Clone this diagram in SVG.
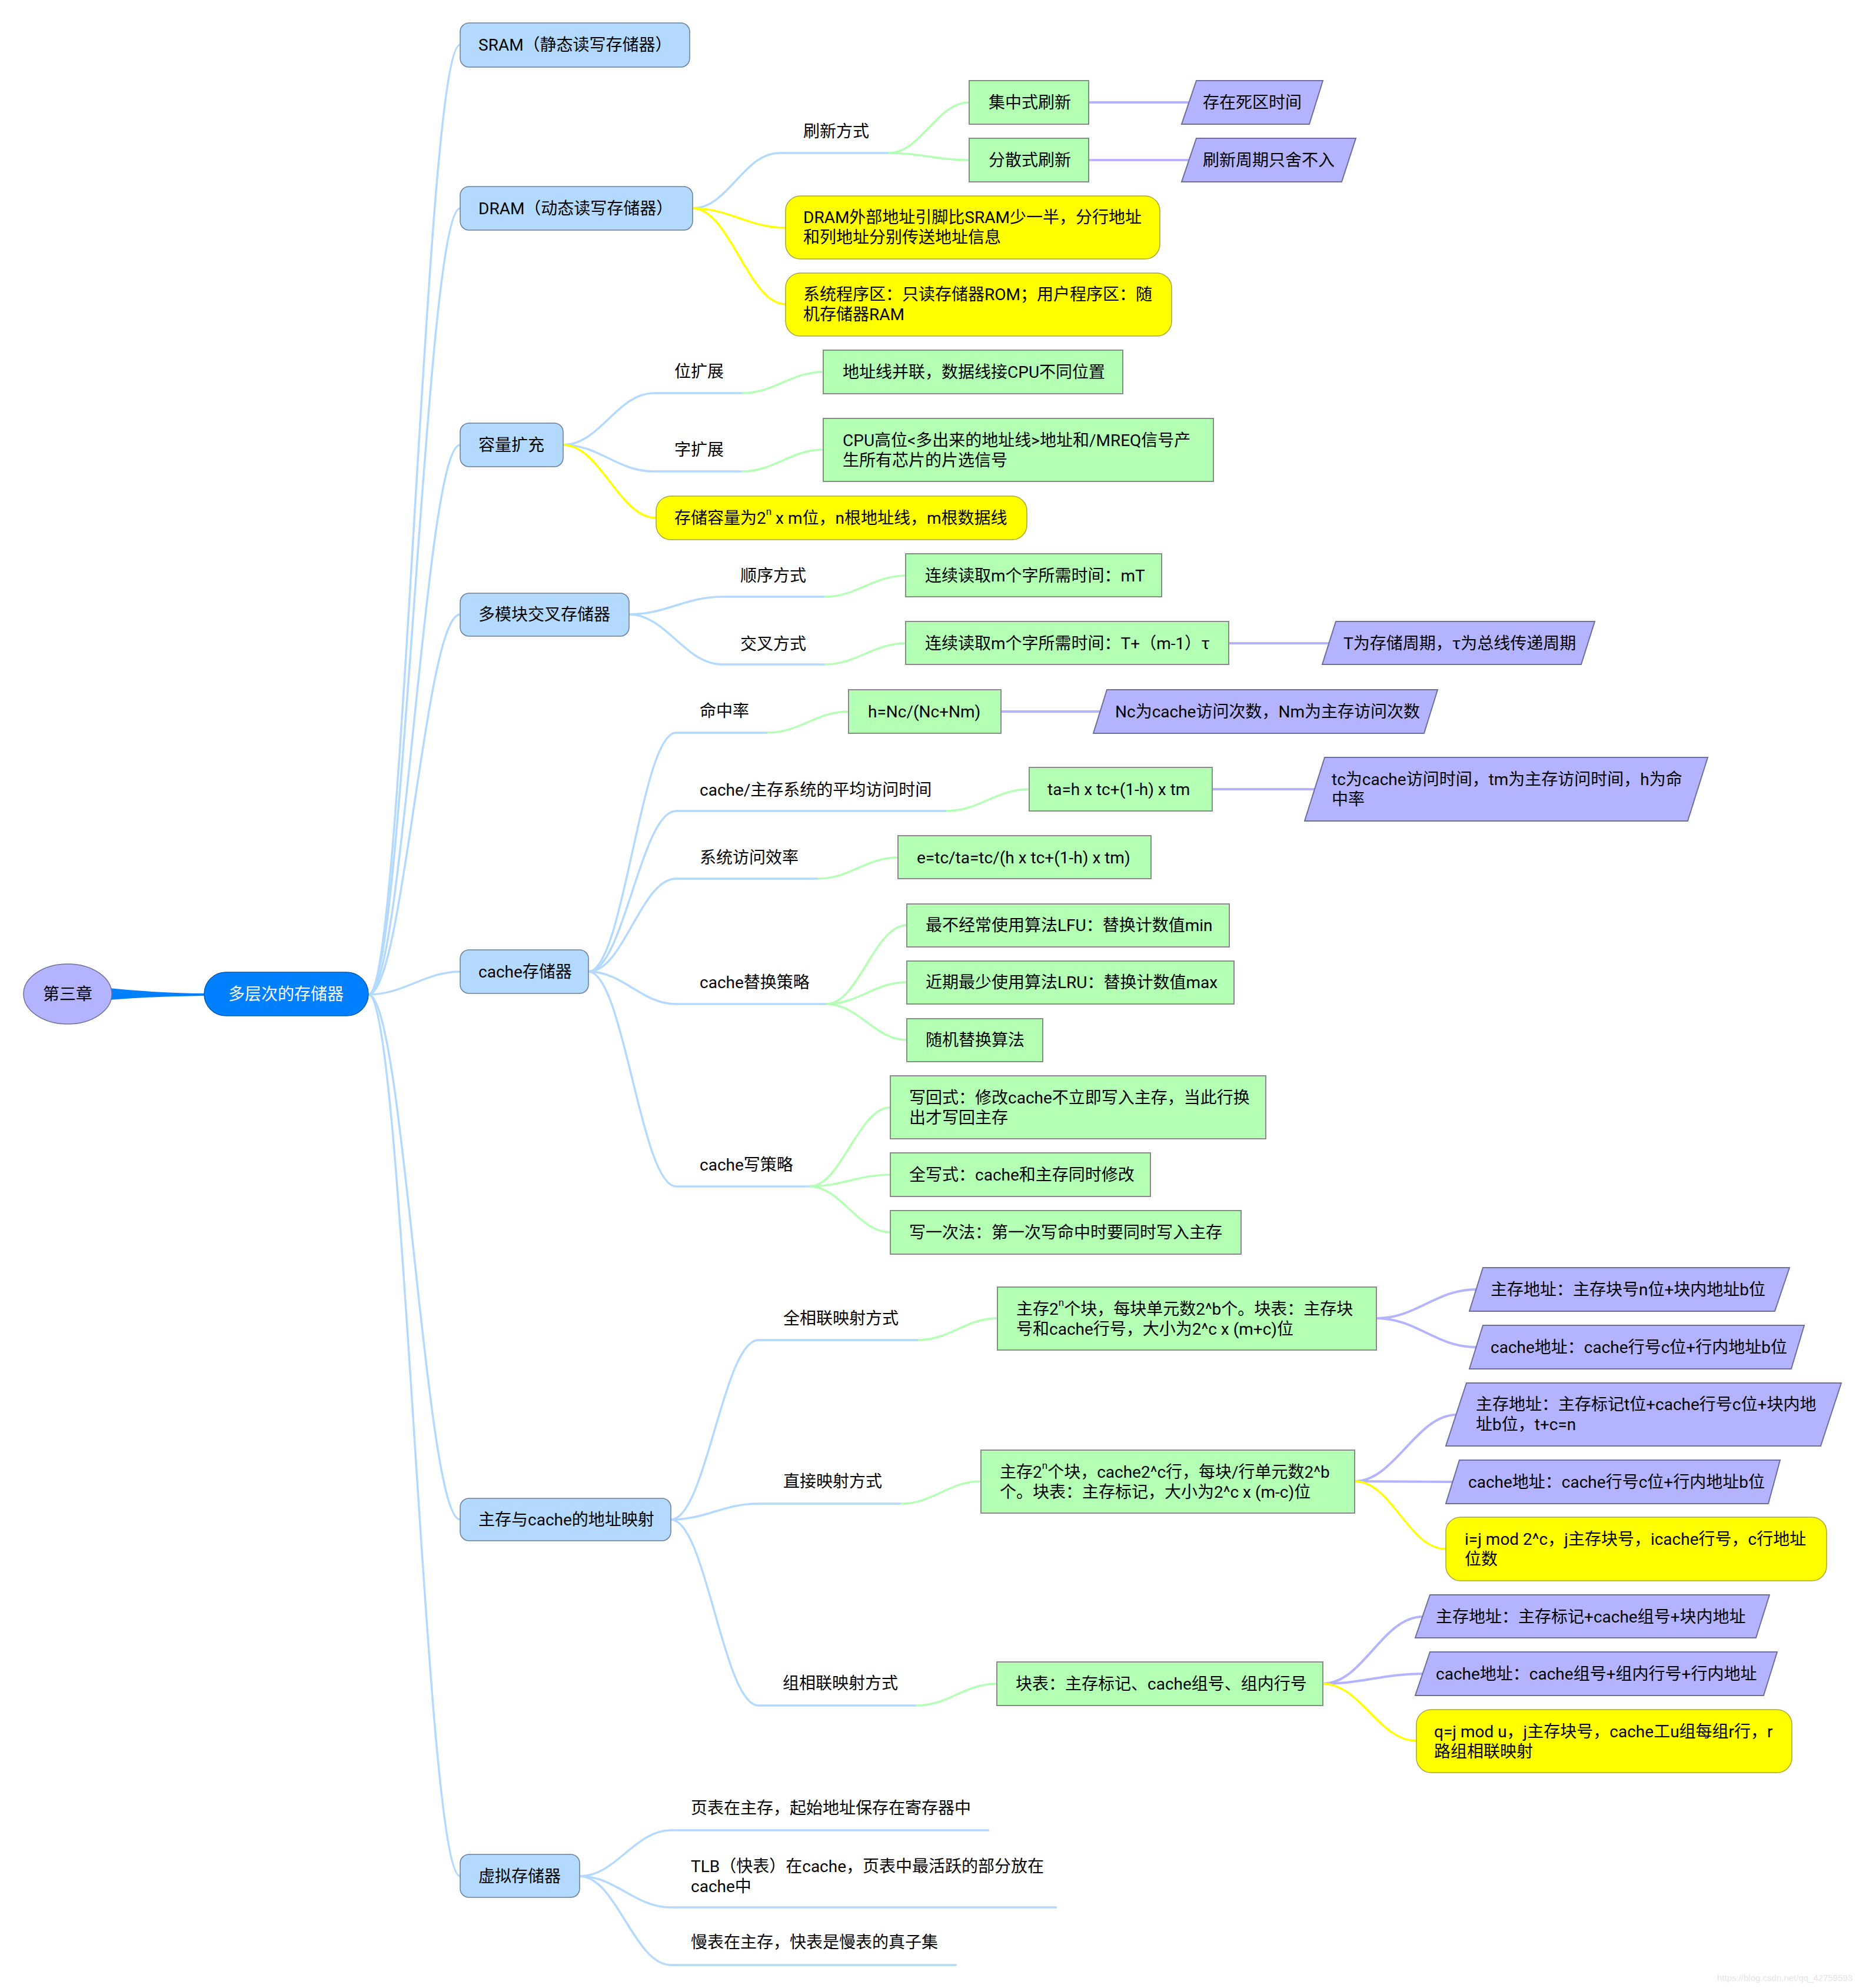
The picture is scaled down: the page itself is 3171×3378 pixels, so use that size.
<svg xmlns="http://www.w3.org/2000/svg" width="3171" height="3378" viewBox="0 0 3171 3378">
<style>
text{font-family:Roboto,"Noto Sans CJK SC",sans-serif;font-size:28px;fill:#000;dominant-baseline:central}
.l1{fill:#b3d9ff;stroke:#6b7f95;stroke-width:1.5}
.g{fill:#b3ffb3;stroke:#8a8a8a;stroke-width:2}
.p{fill:#b3b3ff;stroke:#6e6e9a;stroke-width:2}
.y{fill:#ffff00;stroke:#a5a53c;stroke-width:1.5}
.cb{fill:none;stroke:#b3d9ff;stroke-width:3.5}
.cg{fill:none;stroke:#b3ffb3;stroke-width:3.5}
.cp{fill:none;stroke:#b3b3ff;stroke-width:4}
.cy{fill:none;stroke:#ffff00;stroke-width:3.5}
</style>
<rect x="0" y="0" width="3171" height="3378" fill="#ffffff"/>
<g id="connectors">
<path d="M186,1679 Q260,1687 348,1688 L348,1692 Q260,1693 186,1699 Z" fill="#0080ff"/>
<path class="cb" d="M626,1690 C686,1690 722,76 782,76"/>
<path class="cb" d="M626,1690 C686,1690 722,354 782,354"/>
<path class="cb" d="M626,1690 C686,1690 722,756 782,756"/>
<path class="cb" d="M626,1690 C686,1690 722,1044 782,1044"/>
<path class="cb" d="M626,1690 C686,1690 722,1651 782,1651"/>
<path class="cb" d="M626,1690 C686,1690 722,2582 782,2582"/>
<path class="cb" d="M626,1690 C686,1690 722,3188 782,3188"/>
<path class="cb" d="M1177,354 C1237,354 1264,260 1324,260 L1510,260"/>
<path class="cg" d="M1510,260 C1565,260 1592,174 1647,174"/>
<path class="cg" d="M1510,260 C1565,260 1592,272 1647,272"/>
<path class="cp" d="M1850,174 L2021,174"/>
<path class="cp" d="M1850,272 L2021,272"/>
<path class="cy" d="M1177,354 C1240,354 1272,387 1335,387"/>
<path class="cy" d="M1177,354 C1240,354 1272,517 1335,517"/>
<path class="cb" d="M957,756 C1019,756 1049,668 1111,668 L1261,668"/>
<path class="cb" d="M957,756 C1019,756 1049,801 1111,801 L1261,801"/>
<path class="cg" d="M1261,668 C1316,668 1344,632 1399,632"/>
<path class="cg" d="M1261,801 C1316,801 1344,764 1399,764"/>
<path class="cy" d="M957,756 C1020,756 1052,880 1115,880"/>
<path class="cb" d="M1069,1044 C1132,1044 1164,1014 1227,1014 L1401,1014"/>
<path class="cb" d="M1069,1044 C1132,1044 1164,1129 1227,1129 L1401,1129"/>
<path class="cg" d="M1401,1014 C1456,1014 1484,978 1539,978"/>
<path class="cg" d="M1401,1129 C1456,1129 1484,1093 1539,1093"/>
<path class="cp" d="M2088,1093 L2259,1093"/>
<path class="cb" d="M1000,1651 C1060,1651 1089,1245 1149,1245 L1304,1245"/>
<path class="cb" d="M1000,1651 C1060,1651 1089,1378 1149,1378 L1608,1378"/>
<path class="cb" d="M1000,1651 C1060,1651 1089,1493 1149,1493 L1390,1493"/>
<path class="cb" d="M1000,1651 C1060,1651 1089,1706 1149,1706 L1404,1706"/>
<path class="cb" d="M1000,1651 C1060,1651 1089,2016 1149,2016 L1375,2016"/>
<path class="cg" d="M1304,1245 C1359,1245 1387,1209 1442,1209"/>
<path class="cp" d="M1701,1209 L1870,1209"/>
<path class="cg" d="M1608,1378 C1664,1378 1693,1341 1749,1341"/>
<path class="cp" d="M2060,1341 L2234,1341"/>
<path class="cg" d="M1390,1493 C1444,1493 1472,1457 1526,1457"/>
<path class="cg" d="M1404,1706 C1459,1706 1486,1572 1541,1572"/>
<path class="cg" d="M1404,1706 C1459,1706 1486,1669 1541,1669"/>
<path class="cg" d="M1404,1706 C1459,1706 1486,1767 1541,1767"/>
<path class="cg" d="M1375,2016 C1430,2016 1458,1882 1513,1882"/>
<path class="cg" d="M1375,2016 C1430,2016 1458,1996 1513,1996"/>
<path class="cg" d="M1375,2016 C1430,2016 1458,2094 1513,2094"/>
<path class="cb" d="M1140,2582 C1200,2582 1229,2277 1289,2277 L1560,2277"/>
<path class="cb" d="M1140,2582 C1200,2582 1229,2555 1289,2555 L1531,2555"/>
<path class="cb" d="M1140,2582 C1200,2582 1229,2898 1289,2898 L1557,2898"/>
<path class="cg" d="M1560,2277 C1614,2277 1641,2240 1695,2240"/>
<path class="cp" d="M2339,2240 C2407,2240 2440,2191 2508,2191"/>
<path class="cp" d="M2339,2240 C2407,2240 2440,2289 2508,2289"/>
<path class="cg" d="M1531,2555 C1586,2555 1612,2517 1667,2517"/>
<path class="cp" d="M2302,2517 C2370,2517 2407,2404 2475,2404"/>
<path class="cp" d="M2302,2517 C2370,2517 2400,2518 2468,2518"/>
<path class="cy" d="M2302,2517 C2366,2517 2393,2632 2457,2632"/>
<path class="cg" d="M1557,2898 C1612,2898 1639,2861 1694,2861"/>
<path class="cp" d="M2248,2861 C2316,2861 2349,2747 2418,2747"/>
<path class="cp" d="M2248,2861 C2316,2861 2349,2844 2418,2844"/>
<path class="cy" d="M2248,2861 C2312,2861 2343,2958 2407,2958"/>
<path class="cb" d="M985,3188 C1047,3188 1078,3110 1140,3110 L1681,3110"/>
<path class="cb" d="M985,3188 C1047,3188 1078,3241 1140,3241 L1796,3241"/>
<path class="cb" d="M985,3188 C1047,3188 1078,3339 1140,3339 L1626,3339"/>
</g>
<g id="n-root"><ellipse cx="115" cy="1689" rx="75" ry="51" fill="#b3b3ff" stroke="#6e6e9a" stroke-width="1.5"/><text x="115" y="1689" text-anchor="middle">第三章</text></g>
<g id="n-center"><rect x="347" y="1652" width="279" height="74" rx="37" fill="#0080ff" stroke="#0059b3" stroke-width="1.5"/><text x="486" y="1689" text-anchor="middle" style="fill:#ffffff">多层次的存储器</text></g>
<g id="n-sram"><rect class="l1" x="782" y="39" width="390" height="75" rx="15"/><text x="813" y="76">SRAM（静态读写存储器）</text></g>
<g id="n-dram"><rect class="l1" x="782" y="317" width="395" height="74" rx="15"/><text x="813" y="354">DRAM（动态读写存储器）</text></g>
<g id="n-refresh"><text x="1365" y="223">刷新方式</text></g>
<g id="n-jz"><rect class="g" x="1647" y="137" width="203" height="74"/><text x="1680" y="174">集中式刷新</text></g>
<g id="n-fs"><rect class="g" x="1647" y="235" width="203" height="74"/><text x="1680" y="272">分散式刷新</text></g>
<g id="n-sq"><polygon class="p" points="2033,137 2248,137 2225,211 2008,211"/><text x="2044" y="174">存在死区时间</text></g>
<g id="n-zq"><polygon class="p" points="2033,235 2304,235 2280,309 2008,309"/><text x="2044" y="272">刷新周期只舍不入</text></g>
<g id="n-dram1"><rect class="y" x="1335" y="333" width="636" height="107" rx="25"/><text x="1365" y="369">DRAM外部地址引脚比SRAM少一半，分行地址<tspan x="1365" dy="34">和列地址分别传送地址信息</tspan></text></g>
<g id="n-dram2"><rect class="y" x="1335" y="464" width="656" height="107" rx="25"/><text x="1365" y="500">系统程序区：只读存储器ROM；用户程序区：随<tspan x="1365" dy="34">机存储器RAM</tspan></text></g>
<g id="n-cap"><rect class="l1" x="782" y="719" width="175" height="74" rx="15"/><text x="813" y="756">容量扩充</text></g>
<g id="n-wkz"><text x="1146" y="631">位扩展</text></g>
<g id="n-wkz1"><rect class="g" x="1399" y="595" width="509" height="74"/><text x="1432" y="632">地址线并联，数据线接CPU不同位置</text></g>
<g id="n-zkz"><text x="1146" y="764">字扩展</text></g>
<g id="n-zkz1"><rect class="g" x="1399" y="711" width="663" height="107"/><text x="1432" y="748">CPU高位&lt;多出来的地址线&gt;地址和/MREQ信号产<tspan x="1432" dy="34">生所有芯片的片选信号</tspan></text></g>
<g id="n-cap1"><rect class="y" x="1115" y="843" width="630" height="74" rx="25"/><text x="1146" y="880">存储容量为2<tspan dy="-11" font-size="17">n</tspan><tspan dy="11"> x m位，n根地址线，m根数据线</tspan></text></g>
<g id="n-multi"><rect class="l1" x="782" y="1008" width="287" height="73" rx="15"/><text x="813" y="1044">多模块交叉存储器</text></g>
<g id="n-sx"><text x="1258" y="978">顺序方式</text></g>
<g id="n-sx1"><rect class="g" x="1539" y="941" width="435" height="73"/><text x="1572" y="978">连续读取m个字所需时间：mT</text></g>
<g id="n-jc"><text x="1258" y="1094">交叉方式</text></g>
<g id="n-jc1"><rect class="g" x="1539" y="1056" width="549" height="73"/><text x="1572" y="1093">连续读取m个字所需时间：T+（m-1）τ</text></g>
<g id="n-jc2"><polygon class="p" points="2270,1056 2710,1056 2687,1129 2247,1129"/><text x="2283" y="1093">T为存储周期，τ为总线传递周期</text></g>
<g id="n-cache"><rect class="l1" x="782" y="1614" width="218" height="74" rx="15"/><text x="813" y="1651">cache存储器</text></g>
<g id="n-mzl"><text x="1189" y="1208">命中率</text></g>
<g id="n-mzl1"><rect class="g" x="1442" y="1172" width="259" height="74"/><text x="1475" y="1209">h=Nc/(Nc+Nm)</text></g>
<g id="n-mzl2"><polygon class="p" points="1881,1172 2443,1172 2420,1246 1858,1246"/><text x="1895" y="1209">Nc为cache访问次数，Nm为主存访问次数</text></g>
<g id="n-pj"><text x="1189" y="1342">cache/主存系统的平均访问时间</text></g>
<g id="n-pj1"><rect class="g" x="1749" y="1304" width="311" height="74"/><text x="1780" y="1341">ta=h x tc+(1-h) x tm</text></g>
<g id="n-pj2"><polygon class="p" points="2251,1287 2902,1287 2868,1395 2217,1395"/><text x="2263" y="1324">tc为cache访问时间，tm为主存访问时间，h为命<tspan x="2263" dy="34">中率</tspan></text></g>
<g id="n-xl"><text x="1189" y="1457">系统访问效率</text></g>
<g id="n-xl1"><rect class="g" x="1526" y="1420" width="430" height="73"/><text x="1558" y="1457">e=tc/ta=tc/(h x tc+(1-h) x tm)</text></g>
<g id="n-th"><text x="1189" y="1669">cache替换策略</text></g>
<g id="n-lfu"><rect class="g" x="1541" y="1536" width="548" height="73"/><text x="1573" y="1572">最不经常使用算法LFU：替换计数值min</text></g>
<g id="n-lru"><rect class="g" x="1541" y="1633" width="556" height="73"/><text x="1573" y="1669">近期最少使用算法LRU：替换计数值max</text></g>
<g id="n-rand"><rect class="g" x="1541" y="1731" width="231" height="73"/><text x="1573" y="1767">随机替换算法</text></g>
<g id="n-xcl"><text x="1189" y="1979">cache写策略</text></g>
<g id="n-xhs"><rect class="g" x="1513" y="1828" width="638" height="107"/><text x="1545" y="1865">写回式：修改cache不立即写入主存，当此行换<tspan x="1545" dy="34">出才写回主存</tspan></text></g>
<g id="n-qxs"><rect class="g" x="1513" y="1959" width="442" height="74"/><text x="1545" y="1996">全写式：cache和主存同时修改</text></g>
<g id="n-xycf"><rect class="g" x="1513" y="2057" width="596" height="74"/><text x="1545" y="2094">写一次法：第一次写命中时要同时写入主存</text></g>
<g id="n-map"><rect class="l1" x="782" y="2546" width="358" height="72" rx="15"/><text x="813" y="2582">主存与cache的地址映射</text></g>
<g id="n-qxl"><text x="1331" y="2240">全相联映射方式</text></g>
<g id="n-qxl1"><rect class="g" x="1695" y="2187" width="644" height="107"/><text x="1727" y="2224">主存2<tspan dy="-11" font-size="17">n</tspan><tspan dy="11">个块，每块单元数2^b个。块表：主存块</tspan><tspan x="1727" dy="34">号和cache行号，大小为2^c x (m+c)位</tspan></text></g>
<g id="n-qxl2"><polygon class="p" points="2520,2154 3041,2154 3016,2228 2497,2228"/><text x="2533" y="2191">主存地址：主存块号n位+块内地址b位</text></g>
<g id="n-qxl3"><polygon class="p" points="2520,2252 3066,2252 3044,2326 2497,2326"/><text x="2533" y="2289">cache地址：cache行号c位+行内地址b位</text></g>
<g id="n-zj"><text x="1331" y="2517">直接映射方式</text></g>
<g id="n-zj1"><rect class="g" x="1667" y="2464" width="635" height="107"/><text x="1699" y="2501">主存2<tspan dy="-11" font-size="17">n</tspan><tspan dy="11">个块，cache2^c行，每块/行单元数2^b</tspan><tspan x="1699" dy="34">个。块表：主存标记，大小为2^c x (m-c)位</tspan></text></g>
<g id="n-zj2"><polygon class="p" points="2492,2350 3129,2350 3094,2457 2457,2457"/><text x="2508" y="2386">主存地址：主存标记t位+cache行号c位+块内地<tspan x="2508" dy="34">址b位，t+c=n</tspan></text></g>
<g id="n-zj3"><polygon class="p" points="2480,2481 3025,2481 3005,2555 2457,2555"/><text x="2495" y="2518">cache地址：cache行号c位+行内地址b位</text></g>
<g id="n-zj4"><rect class="y" x="2457" y="2578" width="647" height="108" rx="25"/><text x="2489" y="2615">i=j mod 2^c，j主存块号，icache行号，c行地址<tspan x="2489" dy="34">位数</tspan></text></g>
<g id="n-zxl"><text x="1330" y="2860">组相联映射方式</text></g>
<g id="n-zxl1"><rect class="g" x="1694" y="2824" width="554" height="74"/><text x="1726" y="2861">块表：主存标记、cache组号、组内行号</text></g>
<g id="n-zxl2"><polygon class="p" points="2430,2710 3007,2710 2984,2783 2405,2783"/><text x="2440" y="2747">主存地址：主存标记+cache组号+块内地址</text></g>
<g id="n-zxl3"><polygon class="p" points="2430,2807 3020,2807 2997,2881 2405,2881"/><text x="2440" y="2844">cache地址：cache组号+组内行号+行内地址</text></g>
<g id="n-zxl4"><rect class="y" x="2407" y="2905" width="638" height="107" rx="25"/><text x="2437" y="2942">q=j mod u，j主存块号，cache工u组每组r行，r<tspan x="2437" dy="34">路组相联映射</tspan></text></g>
<g id="n-virt"><rect class="l1" x="782" y="3151" width="203" height="73" rx="15"/><text x="813" y="3188">虚拟存储器</text></g>
<g id="n-v1"><text x="1174" y="3072">页表在主存，起始地址保存在寄存器中</text></g>
<g id="n-v2"><text x="1174" y="3171">TLB（快表）在cache，页表中最活跃的部分放在<tspan x="1174" dy="34">cache中</tspan></text></g>
<g id="n-v3"><text x="1174" y="3300">慢表在主存，快表是慢表的真子集</text></g>
<text x="2918" y="3360" style="font-family:'Liberation Sans',Arial,sans-serif;font-size:15px;fill:#e4e4e4">https://blog.csdn.net/qq_42759593</text>
</svg>
